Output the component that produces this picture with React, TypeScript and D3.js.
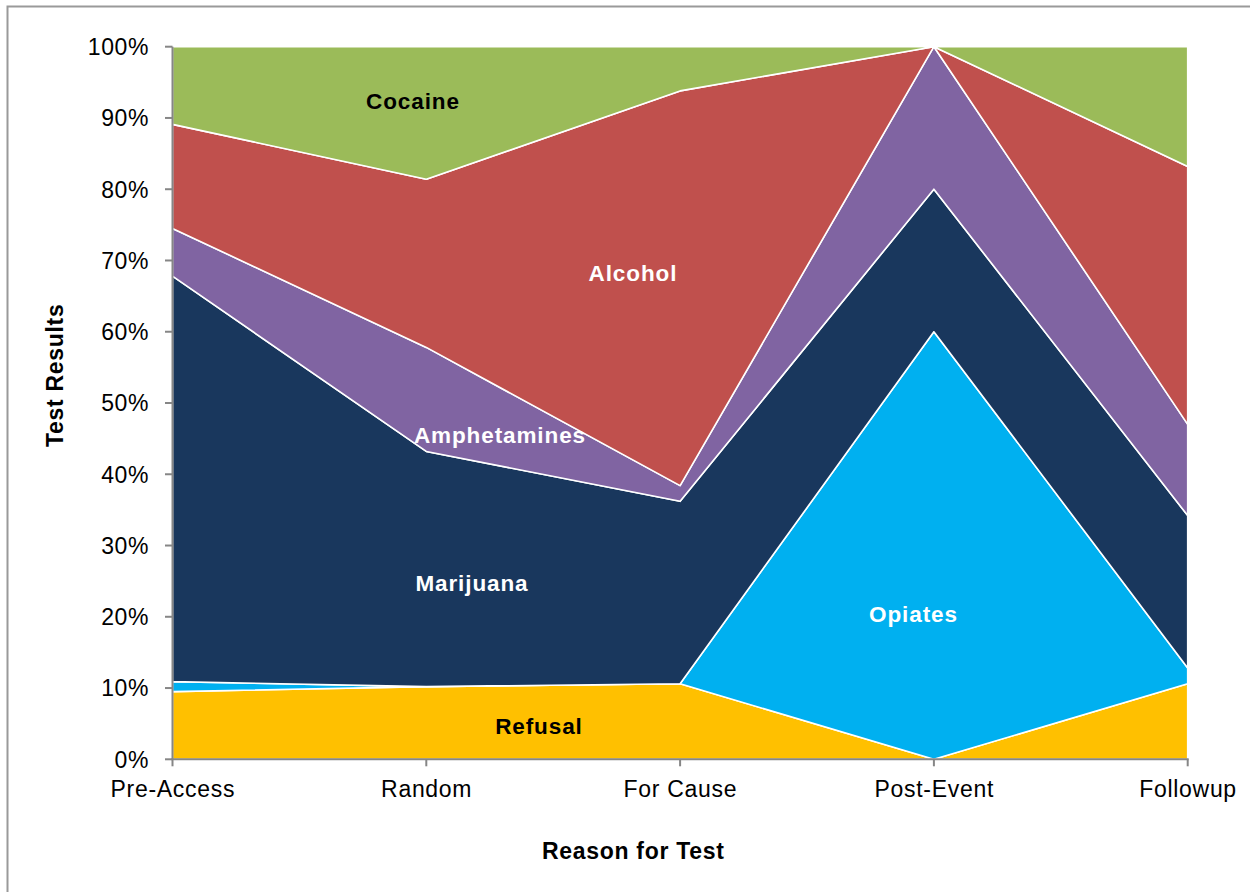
import React from "react";
import * as d3 from "d3";

const categories = ["Pre-Access", "Random", "For Cause", "Post-Event", "Followup"];
const seriesNames = ["Refusal", "Opiates", "Marijuana", "Amphetamines", "Alcohol", "Cocaine"];
const refusal = [9.5, 10.2, 10.6, 0, 10.6];
const opiates = [1.4, 0, 0, 60, 2.2];
const marijuana = [56.9, 33.0, 25.6, 20.0, 21.4];
const amphetamines = [6.7, 14.6, 2.2, 20.0, 12.8];
const alcohol = [14.6, 23.6, 55.4, 0, 36.2];
const cocaine = [10.9, 18.6, 6.2, 0, 16.8];
const yTicks = [0, 10, 20, 30, 40, 50, 60, 70, 80, 90, 100];

const colors: Record<string, string> = {
  Refusal: "#FFC000",
  Opiates: "#00B0F0",
  Marijuana: "#19375D",
  Amphetamines: "#8064A2",
  Alcohol: "#C0504D",
  Cocaine: "#9BBB59",
};

const labels = [
  { name: "Cocaine", x: 412.5, y: 108.5, color: "#000" },
  { name: "Alcohol", x: 632.5, y: 281, color: "#fff" },
  { name: "Amphetamines", x: 499.5, y: 442.5, color: "#fff" },
  { name: "Marijuana", x: 471.5, y: 591, color: "#fff" },
  { name: "Opiates", x: 913, y: 622, color: "#fff" },
  { name: "Refusal", x: 538.5, y: 734, color: "#000" },
];

export default function App() {
  const valuesBySeries: Record<string, number[]> = {
    Refusal: refusal,
    Opiates: opiates,
    Marijuana: marijuana,
    Amphetamines: amphetamines,
    Alcohol: alcohol,
    Cocaine: cocaine,
  };
  const table = categories.map((c, i) => {
    const row: any = { category: c };
    seriesNames.forEach((s) => (row[s] = valuesBySeries[s][i]));
    return row;
  });
  const stack = d3.stack<any>().keys(seriesNames);
  const layers = stack(table);

  const x = d3.scalePoint<string>().domain(categories).range([172.5, 1187.7]).padding(0);
  const y = d3.scaleLinear().domain([0, 100]).range([759.3, 46.7]);

  const area = d3
    .area<any>()
    .x((d) => x(d.data.category) as number)
    .y0((d) => y(d[0]))
    .y1((d) => y(d[1]));

  const font = "'Liberation Sans', Arial, sans-serif";
  const axisColor = "#868686";

  return (
    <svg
      width={1250}
      height={892}
      style={{ position: "absolute", left: 0, top: 0, background: "#fff" }}
      fontFamily={font}
    >
      <rect x={0} y={0} width={1250} height={892} fill="#fff" />
      <rect x={7.5} y={6.5} width={1400} height={1000} fill="none" stroke="#9a9a9a" strokeWidth={2} />
      {layers.map((layer) => (
        <path
          key={layer.key}
          d={area(layer as any) || ""}
          fill={colors[layer.key]}
          stroke="#fff"
          strokeWidth={1.6}
          strokeLinejoin="round"
        />
      ))}
      {/* y axis */}
      <line x1={172.5} x2={172.5} y1={y(100)} y2={y(0)} stroke={axisColor} strokeWidth={2} />
      {yTicks.map((t) => (
        <g key={t}>
          <line x1={165} x2={172.5} y1={y(t)} y2={y(t)} stroke={axisColor} strokeWidth={2} />
          <text x={149} y={y(t)} dy="0.36em" textAnchor="end" fontSize={23} letterSpacing={0.6} fill="#000">
            {t}%
          </text>
        </g>
      ))}
      {/* x axis */}
      <line x1={171.5} x2={1188.7} y1={y(0)} y2={y(0)} stroke={axisColor} strokeWidth={2} />
      {categories.map((c) => (
        <g key={c}>
          <line x1={x(c)} x2={x(c)} y1={y(0)} y2={y(0) + 7} stroke={axisColor} strokeWidth={2} />
          <text x={(x(c) as number) + 0.35} y={797} textAnchor="middle" fontSize={23} letterSpacing={0.7} fill="#000">
            {c}
          </text>
        </g>
      ))}
      {labels.map((l) => (
        <text
          key={l.name}
          x={l.x + 0.45}
          y={l.y}
          textAnchor="middle"
          fontSize={22.5}
          fontWeight="bold"
          letterSpacing={0.9}
          fill={l.color}
        >
          {l.name}
        </text>
      ))}
      <text x={633.3} y={859} textAnchor="middle" fontSize={23} fontWeight="bold" letterSpacing={0.7} fill="#000">
        Reason for Test
      </text>
      <text
        transform="translate(63,375.3) rotate(-90)"
        textAnchor="middle"
        fontSize={23}
        fontWeight="bold"
        letterSpacing={0.7}
        fill="#000"
      >
        Test Results
      </text>
    </svg>
  );
}
